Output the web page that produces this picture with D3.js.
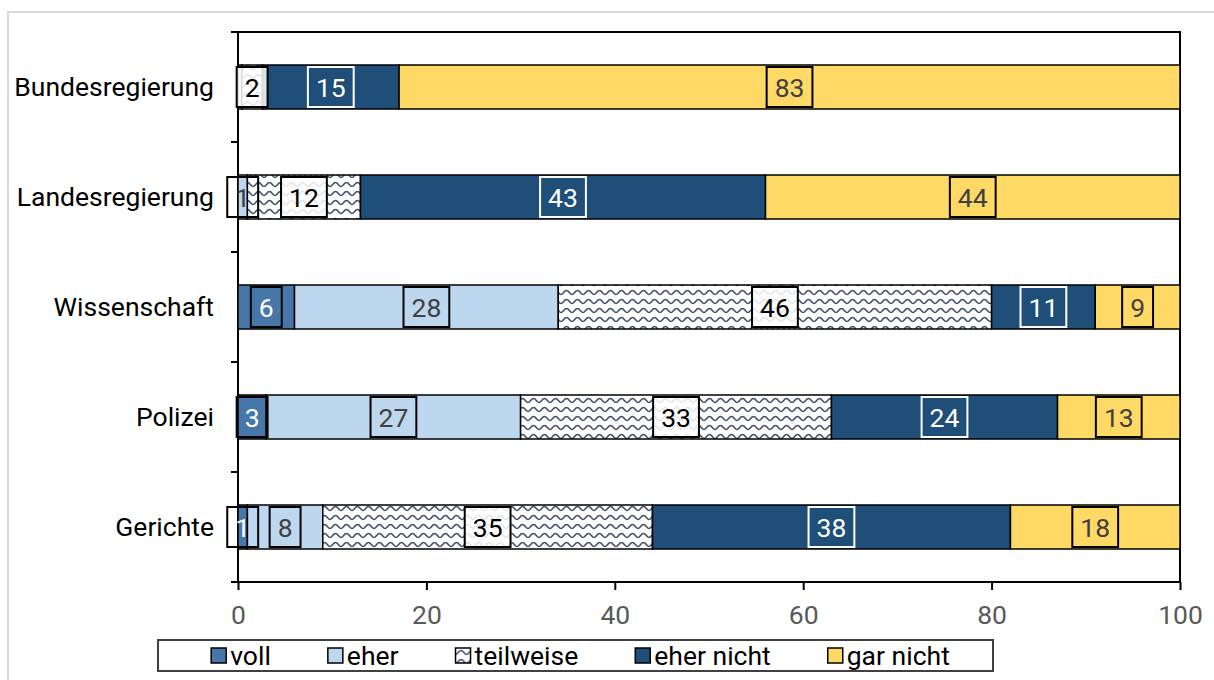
<!DOCTYPE html>
<html>
<head>
<meta charset="utf-8">
<script src="https://cdn.jsdelivr.net/npm/d3@7"></script>
<style>
  body { margin: 0; background: #fff; }
  svg { display: block; font-family: Roboto, "Noto Sans", sans-serif; }
</style>
</head>
<body>
<div id="chart"></div>
<script>
// values in percent
const categories = ["Bundesregierung", "Landesregierung", "Wissenschaft", "Polizei", "Gerichte"];
const seriesNames = ["voll", "eher", "teilweise", "eher nicht", "gar nicht"];
const voll = [0, 0, 6, 3, 1];
const eher = [0.4, 1, 28, 27, 8];
const teilweise = [2.2, 12, 46, 33, 35];
const eherNicht = [14.5, 43, 11, 24, 38];
const garNicht = [82.9, 44, 9, 13, 18];
const xTicks = [0, 20, 40, 60, 80, 100];

const width = 1214, height = 680;
const margin = { top: 32, right: 34, bottom: 98, left: 238 };
const fs = 26.5;

const fills = {
  "voll": "#4677a8",
  "eher": "#bdd7ee",
  "teilweise": "url(#wave)",
  "eher nicht": "#1f4e79",
  "gar nicht": "#ffd966"
};
const labelText = {
  "voll": "#fff", "eher": "#404040", "teilweise": "#000",
  "eher nicht": "#fff", "gar nicht": "#404040"
};
const labelBox = {
  "voll": "#000", "eher": "#000", "teilweise": "#000",
  "eher nicht": "#fff", "gar nicht": "#000"
};

const rows = categories.map((c, i) => ({
  cat: c,
  "voll": voll[i],
  "eher": eher[i],
  "teilweise": teilweise[i],
  "eher nicht": eherNicht[i],
  "gar nicht": garNicht[i]
}));

const stacked = d3.stack().keys(seriesNames)(rows);

const svg = d3.select("#chart").append("svg")
  .attr("width", width)
  .attr("height", height);

const defs = svg.append("defs");
const pat = defs.append("pattern")
  .attr("id", "wave")
  .attr("patternUnits", "userSpaceOnUse")
  .attr("width", 11)
  .attr("height", 9);
pat.append("rect").attr("width", 11).attr("height", 9).attr("fill", "#fff");
pat.append("path")
  .attr("d", "M0,6.5 C2,6.5 3,2.5 5.5,2.5 C8,2.5 9,6.5 11,6.5")
  .attr("fill", "none")
  .attr("stroke", "#44546a")
  .attr("stroke-width", 1.7);

// outer chart border
svg.append("rect")
  .attr("x", 8).attr("y", 12)
  .attr("width", width).attr("height", height)
  .attr("fill", "none")
  .attr("stroke", "#d9d9d9")
  .attr("stroke-width", 2);

const x = d3.scaleLinear()
  .domain([0, 100])
  .range([margin.left, width - margin.right]);

const y = d3.scaleBand()
  .domain(categories)
  .range([margin.top, height - margin.bottom])
  .paddingInner(0.6)
  .paddingOuter(0.3);

// plot frame
svg.append("rect")
  .attr("x", x(0)).attr("y", margin.top)
  .attr("width", x(100) - x(0))
  .attr("height", height - margin.bottom - margin.top)
  .attr("fill", "none")
  .attr("stroke", "#000")
  .attr("stroke-width", 2);

// y ticks at category boundaries
const step = y.step();
const yBounds = d3.range(categories.length + 1).map(i => margin.top + i * step);
svg.append("g").selectAll("line")
  .data(yBounds)
  .join("line")
  .attr("x1", x(0) - 7).attr("x2", x(0))
  .attr("y1", d => d).attr("y2", d => d)
  .attr("stroke", "#000")
  .attr("stroke-width", 2);

// x axis
const xAxis = svg.append("g")
  .attr("transform", `translate(0,${height - margin.bottom})`)
  .call(d3.axisBottom(x).tickValues(xTicks).tickSize(8).tickPadding(15));
xAxis.select(".domain").remove();
xAxis.selectAll(".tick line").attr("stroke", "#000").attr("stroke-width", 2);
xAxis.selectAll(".tick text")
  .attr("fill", "#595959")
  .attr("font-size", fs)
  .attr("font-family", "Roboto, sans-serif");

// category labels
svg.append("g").selectAll("text")
  .data(categories)
  .join("text")
  .attr("x", x(0) - 24)
  .attr("y", d => y(d) + y.bandwidth() / 2)
  .attr("dy", "0.35em")
  .attr("text-anchor", "end")
  .attr("font-size", fs)
  .attr("fill", "#000")
  .text(d => d);

// bars
const layers = svg.append("g").selectAll("g")
  .data(stacked)
  .join("g")
  .attr("fill", d => fills[d.key]);

layers.selectAll("rect")
  .data(d => d.filter(s => s[1] - s[0] > 0))
  .join("rect")
  .attr("x", d => x(d[0]))
  .attr("y", d => y(d.data.cat))
  .attr("width", d => x(d[1]) - x(d[0]))
  .attr("height", y.bandwidth())
  .attr("stroke", "#000")
  .attr("stroke-width", 1.5);

// data labels with boxes
const labels = [];
stacked.forEach(layer => {
  layer.forEach(s => {
    const v = Math.round(s[1] - s[0]);
    if (v > 0) labels.push({ key: layer.key, cat: s.data.cat, v, cx: x((s[0] + s[1]) / 2) });
  });
});

const lab = svg.append("g").selectAll("g")
  .data(labels)
  .join("g")
  .attr("transform", d => `translate(${d.cx},${y(d.cat) + y.bandwidth() / 2})`);

const boxH = 40;
lab.append("rect")
  .attr("class", "box")
  .attr("y", -boxH / 2)
  .attr("height", boxH)
  .attr("fill", d => d.key === "teilweise" ? "rgba(255,255,255,0.85)" : "none")
  .attr("stroke", d => labelBox[d.key])
  .attr("stroke-width", 2);

lab.append("text")
  .attr("text-anchor", "middle")
  .attr("dy", "0.36em")
  .attr("font-size", fs)
  .attr("fill", d => labelText[d.key])
  .text(d => d.v);

lab.each(function() {
  const g = d3.select(this);
  const w = g.select("text").node().getComputedTextLength() + 16;
  g.select("rect.box").attr("x", -w / 2).attr("width", w);
});

// legend
const legY = 640, legH = 31;
svg.append("rect")
  .attr("x", 158).attr("y", legY)
  .attr("width", 835).attr("height", legH)
  .attr("fill", "#fff")
  .attr("stroke", "#404040")
  .attr("stroke-width", 2);

const leg = svg.append("g");
const items = leg.selectAll("g")
  .data(seriesNames)
  .join("g");
items.append("rect")
  .attr("width", 15).attr("height", 15)
  .attr("y", legY + legH / 2 - 7.5)
  .attr("fill", d => fills[d])
  .attr("stroke", "#000")
  .attr("stroke-width", 1.5);
items.append("text")
  .attr("x", 19)
  .attr("y", legY + legH / 2)
  .attr("dy", "0.35em")
  .attr("font-size", fs)
  .attr("fill", "#000")
  .text(d => d);

const gap = 57;
const widths = [];
items.each(function() {
  widths.push(19 + d3.select(this).select("text").node().getComputedTextLength());
});
const total = d3.sum(widths) + gap * (widths.length - 1);
let cursor = 158 + 835 / 2 - total / 2 + 5;
items.each(function(d, i) {
  d3.select(this).attr("transform", `translate(${cursor},0)`);
  cursor += widths[i] + gap;
});
</script>
</body>
</html>
